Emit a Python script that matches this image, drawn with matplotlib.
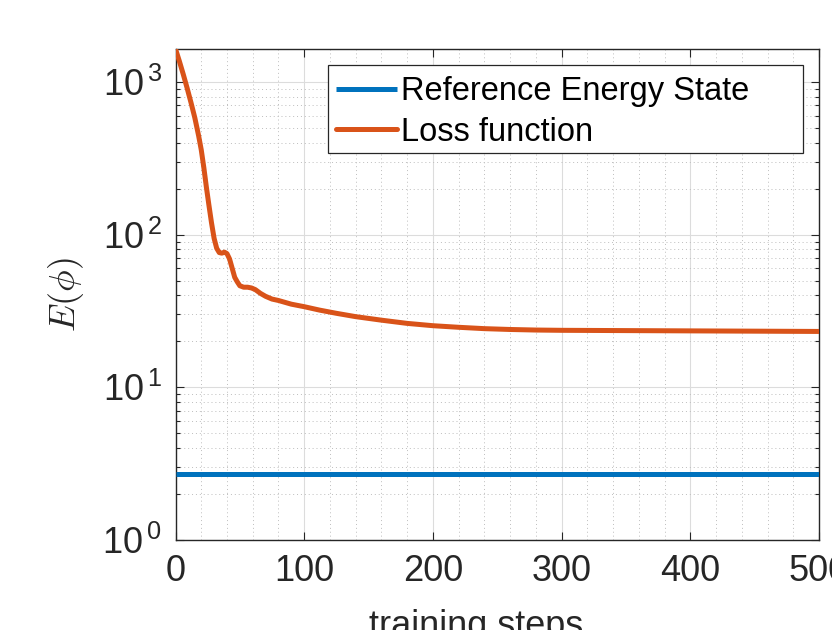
import matplotlib
matplotlib.use("Agg")
import matplotlib.pyplot as plt
from matplotlib.patches import Rectangle
from matplotlib.ticker import FixedLocator, FixedFormatter, LogLocator, NullFormatter, MultipleLocator

# ---- data ----
steps = [0, 3, 6, 9, 12, 15, 18, 20, 22, 24, 26, 28, 30, 32, 34, 36, 38, 40, 42,
         44, 46, 48, 50, 53, 56, 59, 62, 66, 70, 75, 80, 90, 100, 112, 125, 140,
         160, 180, 200, 220, 240, 260, 280, 300, 350, 400, 450, 500]
loss = [1641, 1365, 1122, 912, 733, 582, 442, 359, 275, 204, 155, 119, 94.4, 81.3,
        76.2, 75.5, 76.7, 75.0, 69.2, 60.3, 52.5, 49.0, 46.2, 45.2, 45.2, 44.7,
        43.6, 41.2, 39.4, 37.8, 37.0, 35.0, 33.7, 32.0, 30.5, 29.0, 27.5, 26.2,
        25.3, 24.7, 24.2, 23.9, 23.7, 23.6, 23.5, 23.4, 23.3, 23.2]
ref_steps = [0, 500]
ref_energy = [2.718, 2.718]

series_labels = ["Reference Energy State", "Loss function"]
x_ticks = [0, 100, 200, 300, 400, 500]
x_tick_labels = ["0", "100", "200", "300", "400", "500"]
y_ticks = [1, 10, 100, 1000]
y_tick_labels = [r"$10^{\,0}$", r"$10^{\,1}$", r"$10^{\,2}$", r"$10^{\,3}$"]
x_label = "training steps"
y_label = r"$E(\phi)$"

# ---- style ----
plt.rcParams["font.family"] = ["Liberation Sans", "DejaVu Sans"]
plt.rcParams["mathtext.fontset"] = "custom"
plt.rcParams["mathtext.rm"] = "Liberation Sans"
plt.rcParams["mathtext.it"] = "Liberation Sans:italic"

W, H = 832, 630
fig = plt.figure(figsize=(W / 100, H / 100), dpi=100)
ax_left, ax_right, ax_top, ax_bottom = 175.5, 819, 49, 540
ax = fig.add_axes([ax_left / W, 1 - ax_bottom / H, (ax_right - ax_left) / W, (ax_bottom - ax_top) / H])

blue = "#0072BD"
orange = "#D95319"
axcol = "#262626"

l1, = ax.plot(ref_steps, ref_energy, color=blue, lw=3.6, solid_capstyle="butt", zorder=3)
l2, = ax.plot(steps, loss, color=orange, lw=3.6, solid_capstyle="round",
              solid_joinstyle="round", zorder=3)

ax.set_yscale("log")
ax.set_xlim(0, 500)
ax.set_ylim(1, 1640)

ax.xaxis.set_major_locator(FixedLocator(x_ticks))
ax.xaxis.set_major_formatter(FixedFormatter(x_tick_labels))
ax.xaxis.set_minor_locator(MultipleLocator(20))
ax.yaxis.set_major_locator(FixedLocator(y_ticks))
ax.yaxis.set_major_formatter(FixedFormatter(y_tick_labels))
ax.yaxis.set_minor_locator(LogLocator(base=10, subs=range(2, 10)))
ax.yaxis.set_minor_formatter(NullFormatter())

ax.tick_params(which="both", direction="in", top=True, right=True, colors=axcol, width=0.8)
ax.tick_params(which="major", length=5.5, labelsize=26, labelcolor=axcol)
ax.tick_params(axis="x", which="major", pad=10)
ax.tick_params(axis="y", which="major", pad=10)
ax.tick_params(axis="x", which="minor", length=0)
ax.tick_params(axis="y", which="minor", length=3)

for s in ax.spines.values():
    s.set_color(axcol)
    s.set_linewidth(1.0)

ax.grid(which="major", color="#dcdcdc", lw=0.8, ls="-")
ax.grid(which="minor", color="#bdbdbd", lw=0.7, ls=(0, (1, 3)))
ax.set_axisbelow(True)

ax.set_xlabel(x_label, fontsize=26, color=axcol)
ax.xaxis.set_label_coords((476 - ax_left) / (ax_right - ax_left), (ax_bottom - 609) / (ax_bottom - ax_top))
ax.set_ylabel(y_label, fontsize=26, color=axcol, math_fontfamily="cm")
ax.yaxis.set_label_coords((86 - ax_left) / (ax_right - ax_left), 0.5)

# legend frame
lx0, lx1, ly0, ly1 = 328.3, 802.7, 65, 152.7
frame = Rectangle((lx0 / W, 1 - ly1 / H), (lx1 - lx0) / W, (ly1 - ly0) / H,
                  transform=fig.transFigure, facecolor="white", edgecolor=axcol,
                  lw=0.9, zorder=4)
ax.add_patch(frame)
frame.set_clip_on(False)
leg = ax.legend([l1, l2], series_labels, loc="upper left",
                bbox_to_anchor=(lx0 / W - 0.002, 1 - ly0 / H - 0.002), bbox_transform=fig.transFigure,
                frameon=False, fontsize=23.5, handlelength=1.87, handletextpad=0.12,
                borderpad=0.3, borderaxespad=0, labelspacing=0.3)
leg.set_zorder(5)
for t in leg.get_texts():
    t.set_color("black")

fig.savefig("out.png", dpi=100, facecolor="white")
